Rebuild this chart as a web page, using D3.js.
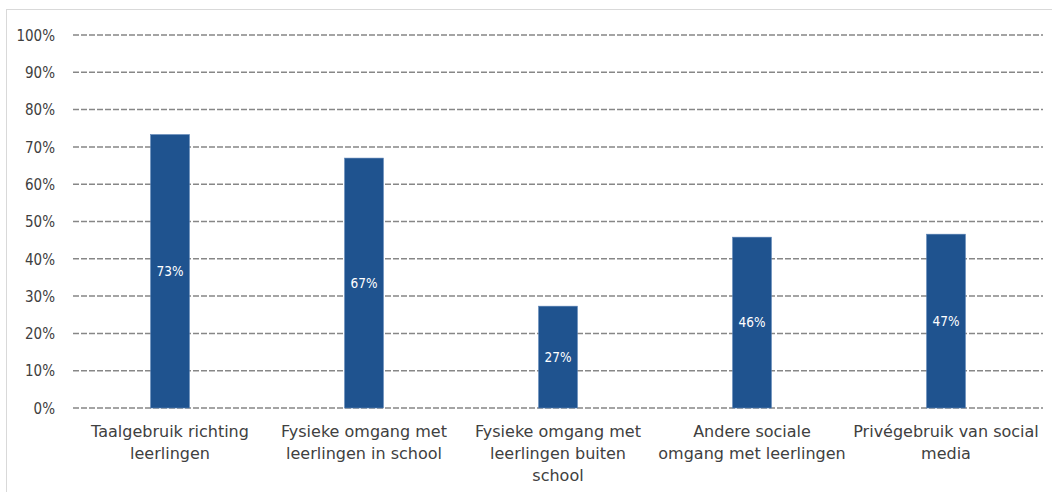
<!DOCTYPE html>
<html><head><meta charset="utf-8">
<script src="https://cdn.jsdelivr.net/npm/d3@7"></script>
<style>body{margin:0;background:#fff}svg{display:block}</style>
</head><body>
<script>
const categories = [
  ["Taalgebruik richting", "leerlingen"],
  ["Fysieke omgang met", "leerlingen in school"],
  ["Fysieke omgang met", "leerlingen buiten", "school"],
  ["Andere sociale", "omgang met leerlingen"],
  ["Privégebruik van social", "media"]
];
const values = [0.733, 0.670, 0.273, 0.458, 0.466];
const valueLabels = ["73%", "67%", "27%", "46%", "47%"];
const yTicks = [0, 0.1, 0.2, 0.3, 0.4, 0.5, 0.6, 0.7, 0.8, 0.9, 1.0];

(function() {
const W = 1052, H = 492;
const fontC = "'DejaVu Sans Condensed', 'DejaVu Sans', sans-serif";
const font = "'DejaVu Sans', sans-serif";
const svg = d3.select("body").append("svg").attr("width", W).attr("height", H);

svg.append("rect").attr("x", 6.5).attr("y", 9.5).attr("width", W + 10).attr("height", H + 10)
  .attr("fill", "#fff").attr("stroke", "#d9d9d9").attr("stroke-width", 1);

const pl = 73, pr = 1043, pt = 35, pb = 408;
const x = d3.scaleBand().domain(d3.range(categories.length)).range([pl, pr]).paddingInner(0.8).paddingOuter(0.4);
const y = d3.scaleLinear().domain([0, 1]).range([pb, pt]);

svg.append("g").selectAll("line").data(yTicks).join("line")
  .attr("x1", pl).attr("x2", pr)
  .attr("y1", d => y(d)).attr("y2", d => y(d))
  .attr("stroke", "#878787").attr("stroke-width", 1.5).attr("stroke-dasharray", "6,2");

const yAxis = d3.axisLeft(y).tickValues(yTicks).tickFormat(d3.format(".0%")).tickSize(0).tickPadding(0);
const ya = svg.append("g").attr("transform", `translate(55,0)`).call(yAxis);
ya.select(".domain").remove();
ya.selectAll("text").attr("font-family", fontC).attr("font-size", 15).attr("fill", "#404040").attr("dy", "0.35em");

svg.append("g").selectAll("rect").data(values).join("rect")
  .attr("x", (d, i) => x(i)).attr("width", x.bandwidth())
  .attr("y", d => y(d)).attr("height", d => y(0) - y(d))
  .attr("fill", "#1f538f").attr("stroke", "#5a82b5").attr("stroke-width", 0.6);

svg.append("g").selectAll("text").data(values).join("text")
  .attr("x", (d, i) => x(i) + x.bandwidth() / 2)
  .attr("y", d => (y(d) + y(0)) / 2)
  .attr("dy", "0.35em").attr("text-anchor", "middle")
  .attr("font-family", fontC).attr("font-size", 13.5).attr("fill", "#fff")
  .text((d, i) => valueLabels[i]);

const xs = d3.scaleBand().domain(d3.range(categories.length)).range([pl, pr]);
const xl = svg.append("g").selectAll("text").data(categories).join("text")
  .attr("x", (d, i) => xs(i) + xs.bandwidth() / 2)
  .attr("y", 431).attr("text-anchor", "middle")
  .attr("font-family", font).attr("font-size", 16).attr("fill", "#404040");
xl.each(function(lines) {
  const t = d3.select(this);
  const cx = t.attr("x");
  lines.forEach((ln, k) => {
    t.append("tspan").attr("x", cx).attr("y", 431 + k * 22).attr("dy", "0.35em").text(ln);
  });
});
})();
</script>
</body></html>
